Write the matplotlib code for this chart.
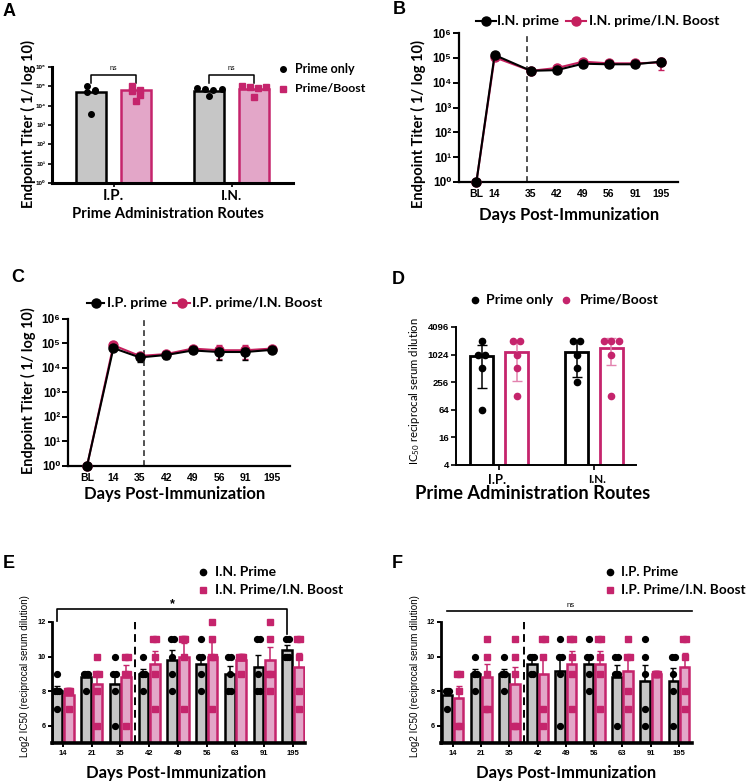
import numpy as np
import matplotlib
matplotlib.use('Agg')
import matplotlib.pyplot as plt
from matplotlib.lines import Line2D
from matplotlib.ticker import FixedLocator, LogLocator, NullFormatter

# ---------------- data ----------------
# Panel A (endpoint titers, prime only vs prime/boost)
a_routes = ['I.P.', 'I.N.']
a_prime_bar = [5.2e4, 5.8e4]
a_boost_bar = [6.3e4, 7.5e4]
a_prime_pts = [[1.0e5, 5.0e4, 5.5e4, 6.5e4, 3.8e3], [8.0e4, 7.0e4, 6.5e4, 7.0e4, 3.0e4]]
a_boost_pts = [[1.0e5, 6.5e4, 5.5e4, 3.5e4, 1.8e4], [1.0e5, 9.0e4, 8.0e4, 9.0e4, 2.7e4]]

# Panel B (I.N. prime time course)
bc_days = ['BL', '14', '35', '42', '49', '56', '91', '195']
b_prime = [1, 1.3e5, 3.0e4, 3.2e4, 5.8e4, 5.5e4, 5.5e4, 7.0e4]
b_prime_sd = [0, 1.5e4, 3e3, 4e3, 6e3, 6e3, 6e3, 1.2e4]
b_boost = [1, 1.05e5, 3.0e4, 3.9e4, 7.0e4, 6.0e4, 6.0e4, 6.5e4]
b_boost_sd = [0, 1.5e4, 3e3, 5e3, 8e3, 7e3, 7e3, 3.2e4]

# Panel C (I.P. prime time course)
c_prime = [1, 6.5e4, 2.7e4, 3.4e4, 5.2e4, 4.5e4, 4.5e4, 5.5e4]
c_prime_sd = [0, 8e3, 9e3, 1e4, 1.2e4, 2.3e4, 2.3e4, 1.2e4]
c_boost = [1, 8.5e4, 3.1e4, 3.7e4, 6.2e4, 5.3e4, 5.3e4, 6.2e4]
c_boost_sd = [0, 1.2e4, 5e3, 6e3, 1e4, 3e4, 3e4, 1.2e4]

# Panel D (IC50)
d_prime_pts = [[2048, 1024, 1024, 512, 64], [2048, 2048, 1024, 512, 256]]
d_boost_pts = [[2048, 2048, 1024, 512, 128], [2048, 2048, 2048, 1024, 128]]

# Panels E/F (log2 IC50)
ef_days = ['14', '21', '35', '42', '49', '56', '63', '91', '195']
e_prime = [[9, 8, 8, 8, 7], [9, 9, 9, 9, 8], [10, 9, 9, 8, 6], [10, 9, 9, 9, 8], [11, 11, 10, 9, 8],
           [11, 10, 10, 9, 8], [10, 10, 9, 8, 8], [11, 11, 9, 8, 8], [11, 11, 10, 10, 10]]
e_boost = [[8, 8, 8, 8, 7], [10, 9, 9, 8, 6], [10, 10, 9, 9, 6], [11, 11, 10, 9, 7], [11, 11, 11, 10, 7],
           [12, 11, 10, 10, 7], [10, 10, 10, 10, 9], [12, 11, 9, 9, 8], [11, 11, 10, 8, 7]]
f_prime = [[8, 8, 8, 8, 7], [10, 9, 9, 9, 8], [10, 9, 9, 9, 8], [10, 10, 10, 9, 9], [11, 10, 10, 9, 6],
           [11, 10, 10, 9, 8], [10, 10, 9, 9, 6], [11, 10, 9, 7, 6], [10, 10, 9, 8, 6]]
f_boost = [[9, 9, 8, 6, 6], [11, 10, 9, 7, 7], [11, 10, 9, 6, 6], [11, 11, 10, 7, 6], [11, 11, 10, 9, 7],
           [11, 11, 10, 9, 7], [11, 10, 10, 8, 7], [9, 9, 9, 9, 9], [11, 11, 10, 8, 7]]

# ---------------- style ----------------
PINK = '#C5246C'
PINKF = '#E3A6C8'
PINKL = '#C51F5E'
PINKE = '#E382AE'
GRAY = '#C6C6C6'
LBL = ['Lato', 'DejaVu Sans']
TCK = ['Liberation Sans', 'DejaVu Sans']
plt.rcParams['mathtext.fontset'] = 'custom'
plt.rcParams['mathtext.rm'] = 'Lato'
plt.rcParams['mathtext.bf'] = 'Lato:bold'

W, H = 747, 783
fig = plt.figure(figsize=(W / 100, H / 100), dpi=100)
renderer = fig.canvas.get_renderer()


def add_ax(x0, x1, yt, yb):
    ax = fig.add_axes([x0 / W, 1 - yb / H, (x1 - x0) / W, (yb - yt) / H])
    ax.spines['top'].set_visible(False)
    ax.spines['right'].set_visible(False)
    ax.patch.set_alpha(0)
    return ax


def ftext(x, y, s, target=None, **kw):
    kw.setdefault('ha', 'center')
    kw.setdefault('va', 'center')
    t = fig.text(x / W, 1 - y / H, s, **kw)
    if target:
        bb = t.get_window_extent(renderer)
        w = bb.height if abs(t.get_rotation() - 90) < 1 else bb.width
        t.set_fontsize(t.get_fontsize() * target / w)
    return t


def fmark(x, y, **kw):
    fig.add_artist(Line2D([x / W], [1 - y / H], transform=fig.transFigure, **kw))


def fline(x0, x1, y, **kw):
    fig.add_artist(Line2D([x0 / W, x1 / W], [1 - y / H, 1 - y / H], transform=fig.transFigure, **kw))


def spread(vals, step, tol, tf=lambda v: v, maxw=None):
    t = tf(np.asarray(vals, float))
    offs = np.zeros(len(vals))
    used = np.zeros(len(vals), bool)
    for i in range(len(vals)):
        if used[i]:
            continue
        idx = [j for j in range(len(vals)) if not used[j] and abs(t[j] - t[i]) <= tol]
        st = step
        if maxw is not None and len(idx) > 1:
            st = min(step, maxw / (len(idx) - 1))
        for k, j in enumerate(idx):
            offs[j] = (k - (len(idx) - 1) / 2) * st
            used[j] = True
    return offs


SUP = str.maketrans('0123456789', '⁰¹²³⁴⁵⁶⁷⁸⁹')

# ---------------- Panel A ----------------
axA = add_ax(52, 293, 67, 183)
xA = np.arange(len(a_routes))
offA, bwA = 0.19, 0.254
axA.set_yscale('log')
axA.bar(xA - offA, a_prime_bar, bwA, color=GRAY, edgecolor='k', lw=1.8, zorder=2)
axA.bar(xA + offA, a_boost_bar, bwA, color=PINKF, edgecolor=PINK, lw=1.8, zorder=2)
for i in range(len(a_routes)):
    o = spread(a_prime_pts[i], 0.07, 0.25, np.log10)
    axA.plot(i - offA + o, a_prime_pts[i], 'o', color='k', ms=4, zorder=4, clip_on=False)
    o = spread(a_boost_pts[i], 0.07, 0.25, np.log10)
    axA.plot(i + offA + o, a_boost_pts[i], 's', color=PINK, ms=4, zorder=4, clip_on=False)
    axA.plot([i - offA, i - offA, i + offA, i + offA], [1.5e5, 3.9e5, 3.9e5, 1.5e5], color='k', lw=1.1, clip_on=False)
    axA.text(i, 8.5e5, 'ns', ha='center', va='center', fontsize=5, family=TCK)
axA.set_ylim(1, 1e6)
axA.set_xlim(-0.523, 1.52)
axA.yaxis.set_major_locator(FixedLocator([10.0 ** k for k in range(7)]))
axA.yaxis.set_minor_locator(FixedLocator([]))
axA.set_yticklabels(['10' + str(k).translate(SUP) for k in range(7)], fontsize=4.5, family=TCK, fontweight='bold')
axA.set_xticks(xA)
axA.set_xticklabels(['', ''])
for s in ['left', 'bottom']:
    axA.spines[s].set_linewidth(2.2)
axA.tick_params(axis='y', length=3, width=1.2, pad=1.5)
axA.tick_params(axis='x', length=3, width=1.2)
ftext(113, 196, a_routes[0], target=21, family=LBL, fontweight='bold')
ftext(232, 196, a_routes[1], target=21, family=LBL, fontweight='bold')
ftext(167.5, 214, 'Prime Administration Routes', target=192, family=LBL, fontweight='bold')
ftext(28.5, 124, 'Endpoint Titer ( 1/ log 10)', target=168, rotation=90, family=LBL, fontweight='bold')
fmark(283, 69, marker='o', color='k', ms=4)
ftext(295, 69, 'Prime only', target=60, ha='left', family=LBL, fontweight='bold')
fmark(283, 89, marker='s', color=PINK, ms=4)
ftext(295, 89, 'Prime/Boost', target=71, ha='left', family=LBL, fontweight='bold')

# ---------------- Panels B & C ----------------
def time_panel(ax, pos, xlim, prime, prime_sd, boost, boost_sd, dash_x):
    ax.set_yscale('log')
    ax.errorbar(pos, boost, yerr=boost_sd, color=PINKL, marker='o', ms=6.5, lw=1.5, capsize=2.5,
                elinewidth=1.2, clip_on=False, zorder=3)
    ax.errorbar(pos, prime, yerr=prime_sd, color='k', marker='o', ms=6.5, lw=1.5, capsize=2.5,
                elinewidth=1.2, clip_on=False, zorder=4)
    ax.axvline(dash_x, color='#333333', ls=(0, (3.5, 2.5)), lw=1.2, zorder=1)
    ax.set_ylim(1, 1e6)
    ax.set_xlim(*xlim)
    ax.yaxis.set_major_locator(FixedLocator([10.0 ** k for k in range(7)]))
    ax.yaxis.set_minor_locator(LogLocator(base=10, subs=np.arange(2, 10)))
    ax.yaxis.set_minor_formatter(NullFormatter())
    ax.set_yticklabels(['10' + str(k).translate(SUP) for k in range(7)], fontsize=8.5, family=TCK,
                       fontweight='bold')
    ax.set_xticks(pos)
    ax.set_xticklabels(bc_days, fontsize=7.5, family=TCK, fontweight='bold')
    for s in ['left', 'bottom']:
        ax.spines[s].set_linewidth(1.6)
    ax.tick_params(axis='y', which='major', length=4, width=1.4, pad=1.5)
    ax.tick_params(axis='y', which='minor', length=2.5, width=0.8)
    ax.tick_params(axis='x', length=0, pad=5)


axB = add_ax(459, 678, 33, 182)
time_panel(axB, [0, 0.7, 2.1, 3.1, 4.1, 5.1, 6.1, 7.1], (-0.67, 7.76),
           b_prime, b_prime_sd, b_boost, b_boost_sd, 1.95)
ftext(418, 124, 'Endpoint Titer ( 1/ log 10)', target=168, rotation=90, family=LBL, fontweight='bold')
ftext(569.5, 215, 'Days Post-Immunization', target=181, family=LBL, fontweight='bold')
fline(476, 496, 21, color='k', lw=1.5)
fmark(486, 21, marker='o', color='k', ms=6.5)
ftext(497, 21, 'I.N. prime', target=62, ha='left', family=LBL, fontweight='bold')
fline(566, 586, 21, color=PINKL, lw=1.5)
fmark(576, 21, marker='o', color=PINKL, ms=6.5)
ftext(589, 21, 'I.N. prime/I.N. Boost', target=131, ha='left', family=LBL, fontweight='bold')

axC = add_ax(68, 290, 319, 466)
time_panel(axC, np.arange(8), (-0.72, 7.69), c_prime, c_prime_sd, c_boost, c_boost_sd, 2.15)
ftext(28, 391, 'Endpoint Titer ( 1/ log 10)', target=167, rotation=90, family=LBL, fontweight='bold')
ftext(175, 494, 'Days Post-Immunization', target=182, family=LBL, fontweight='bold')
fline(87, 104, 303, color='k', lw=1.5)
fmark(96, 303, marker='o', color='k', ms=6.5)
ftext(107, 303, 'I.P. prime', target=60, ha='left', family=LBL, fontweight='bold')
fline(173, 190, 303, color=PINKL, lw=1.5)
fmark(182, 303, marker='o', color=PINKL, ms=6.5)
ftext(192, 303, 'I.P. prime/I.N. Boost', target=131, ha='left', family=LBL, fontweight='bold')

# ---------------- Panel D ----------------
axD = add_ax(456, 636, 327, 465)
axD.set_yscale('log', base=2)
xD = np.arange(2)
offD, bwD = 0.184, 0.242
for i in range(2):
    p = np.array(d_prime_pts[i], float)
    b = np.array(d_boost_pts[i], float)
    axD.bar(i - offD, p.mean(), bwD, color='white', edgecolor='k', lw=2, zorder=2)
    axD.bar(i + offD, b.mean(), bwD, color='white', edgecolor=PINK, lw=2, zorder=2)
    axD.errorbar(i - offD, p.mean(), yerr=p.std(ddof=1), color='k', capsize=3.5, lw=1.1, zorder=3)
    axD.errorbar(i + offD, b.mean(), yerr=b.std(ddof=1), color=PINKE, capsize=3.5, lw=1.1, zorder=3)
    axD.plot(i - offD + spread(p, 0.075, 0.01), p, 'o', color='k', ms=4.5, zorder=4, clip_on=False)
    axD.plot(i + offD + spread(b, 0.075, 0.01), b, 'o', color=PINK, ms=4.5, zorder=4, clip_on=False)
axD.set_ylim(4, 4096)
axD.set_xlim(-0.453, 1.442)
dt = [4, 16, 64, 256, 1024, 4096]
axD.yaxis.set_major_locator(FixedLocator(dt))
axD.yaxis.set_minor_locator(FixedLocator([]))
axD.set_yticklabels([str(v) for v in dt], fontsize=6.8, family=TCK, fontweight='bold')
axD.set_xticks(xD)
axD.set_xticklabels(['', ''])
for s in ['left', 'bottom']:
    axD.spines[s].set_linewidth(1.4)
axD.tick_params(axis='y', length=3.5, width=1.2, pad=1.5)
axD.tick_params(axis='x', length=3.5, width=1.2)
ftext(497, 480, a_routes[0], target=18, family=LBL, fontweight='bold')
ftext(597, 480, a_routes[1], target=18, family=LBL, fontweight='bold')
ftext(533, 494, 'Prime Administration Routes', target=235, family=LBL, fontweight='bold')
ftext(415, 391, r'IC$_{50}$ reciprocal serum dilution', target=148, rotation=90, family=LBL)
fmark(475, 300, marker='o', color='k', ms=4.5)
ftext(486, 300, 'Prime only', target=67, ha='left', family=LBL, fontweight='bold')
fmark(566, 300, marker='o', color=PINK, ms=4.5)
ftext(580, 300, 'Prime/Boost', target=79, ha='left', family=LBL, fontweight='bold')

# ---------------- Panels E & F ----------------
def log2_panel(ax, prime, boost, xlim):
    x = np.arange(len(ef_days))
    off, bw = 0.2, 0.34
    for i in range(len(ef_days)):
        p = np.array(prime[i], float)
        b = np.array(boost[i], float)
        ps = p.std(ddof=1) / np.sqrt(len(p))
        bs = b.std(ddof=1) / np.sqrt(len(b))
        ax.bar(i - off, p.mean(), bw, color=GRAY, edgecolor='k', lw=1.8, zorder=2)
        ax.bar(i + off, b.mean(), bw, color=PINKF, edgecolor=PINK, lw=1.8, zorder=2)
        if ps > 0:
            ax.errorbar(i - off, p.mean(), yerr=[[0], [ps]], color='k', capsize=2.5, lw=1.1, zorder=3)
        if bs > 0:
            ax.errorbar(i + off, b.mean(), yerr=[[0], [bs]], color=PINK, capsize=2.5, lw=1.1, zorder=3)
        ax.plot(i - off + spread(p, 0.1, 0.01, maxw=0.12), p, 'o', color='k', ms=4.2, zorder=4, clip_on=False)
        ax.plot(i + off + spread(b, 0.1, 0.01, maxw=0.12), b, 's', color=PINK, ms=3.9, zorder=4, clip_on=False)
    ax.axvline(2.5, ymax=1.0, color='k', ls=(0, (4, 2.5)), lw=1.4, zorder=1)
    ax.set_ylim(5, 12)
    ax.set_xlim(*xlim)
    ax.set_yticks([6, 8, 10, 12])
    ax.set_yticklabels(['6', '8', '10', '12'], fontsize=5.3, family=TCK, fontweight='bold')
    ax.set_xticks(x)
    ax.set_xticklabels(ef_days, fontsize=5.5, family=TCK, fontweight='bold')
    ax.spines['left'].set_linewidth(2)
    ax.spines['bottom'].set_linewidth(2.6)
    ax.tick_params(axis='y', length=3, width=1.4, pad=1.5)
    ax.tick_params(axis='x', length=3, width=1.4, pad=2)


axE = add_ax(52, 305, 622, 743.3)
log2_panel(axE, e_prime, e_boost, (-0.38, 8.42))
axE.plot([-0.2, -0.2, 7.8, 7.8], [12.05, 12.77, 12.77, 11.3], color='k', lw=1.2, clip_on=False)
axE.text(3.8, 13.05, '*', ha='center', va='center', fontsize=9, fontweight='bold', family=TCK)
ftext(25, 676, 'Log2 IC50 (reciprocal serum dilution)', target=163, rotation=90, family=TCK)
ftext(176, 773, 'Days Post-Immunization', target=181, family=LBL, fontweight='bold')
fmark(203, 572, marker='o', color='k', ms=4.5)
ftext(215, 572, 'I.N. Prime', target=61, ha='left', family=LBL, fontweight='bold')
fmark(203, 590, marker='s', color=PINK, ms=4.2)
ftext(215, 590, 'I.N. Prime/I.N. Boost', target=128, ha='left', family=LBL, fontweight='bold')

axF = add_ax(441, 692, 622, 743.3)
log2_panel(axF, f_prime, f_boost, (-0.42, 8.46))
axF.plot([-0.21, 8.46], [12.62, 12.62], color='k', lw=1.2, clip_on=False)
axF.text(4.18, 12.95, 'ns', ha='center', va='center', fontsize=5.5, family=TCK)
ftext(415, 676, 'Log2 IC50 (reciprocal serum dilution)', target=163, rotation=90, family=TCK)
ftext(566, 773, 'Days Post-Immunization', target=181, family=LBL, fontweight='bold')
fmark(610, 572, marker='o', color='k', ms=4.5)
ftext(621, 572, 'I.P. Prime', target=57, ha='left', family=LBL, fontweight='bold')
fmark(610, 590, marker='s', color=PINK, ms=4.2)
ftext(621, 590, 'I.P. Prime/I.N. Boost', target=124, ha='left', family=LBL, fontweight='bold')

# ---------------- panel letters ----------------
for lab, (x, y) in {'A': (9, 11), 'B': (399, 9), 'C': (18, 278), 'D': (398, 279),
                    'E': (9, 564), 'F': (397, 564)}.items():
    ftext(x, y, lab, fontsize=13, fontweight='bold', family=TCK)

fig.savefig('out.png', dpi=100)
